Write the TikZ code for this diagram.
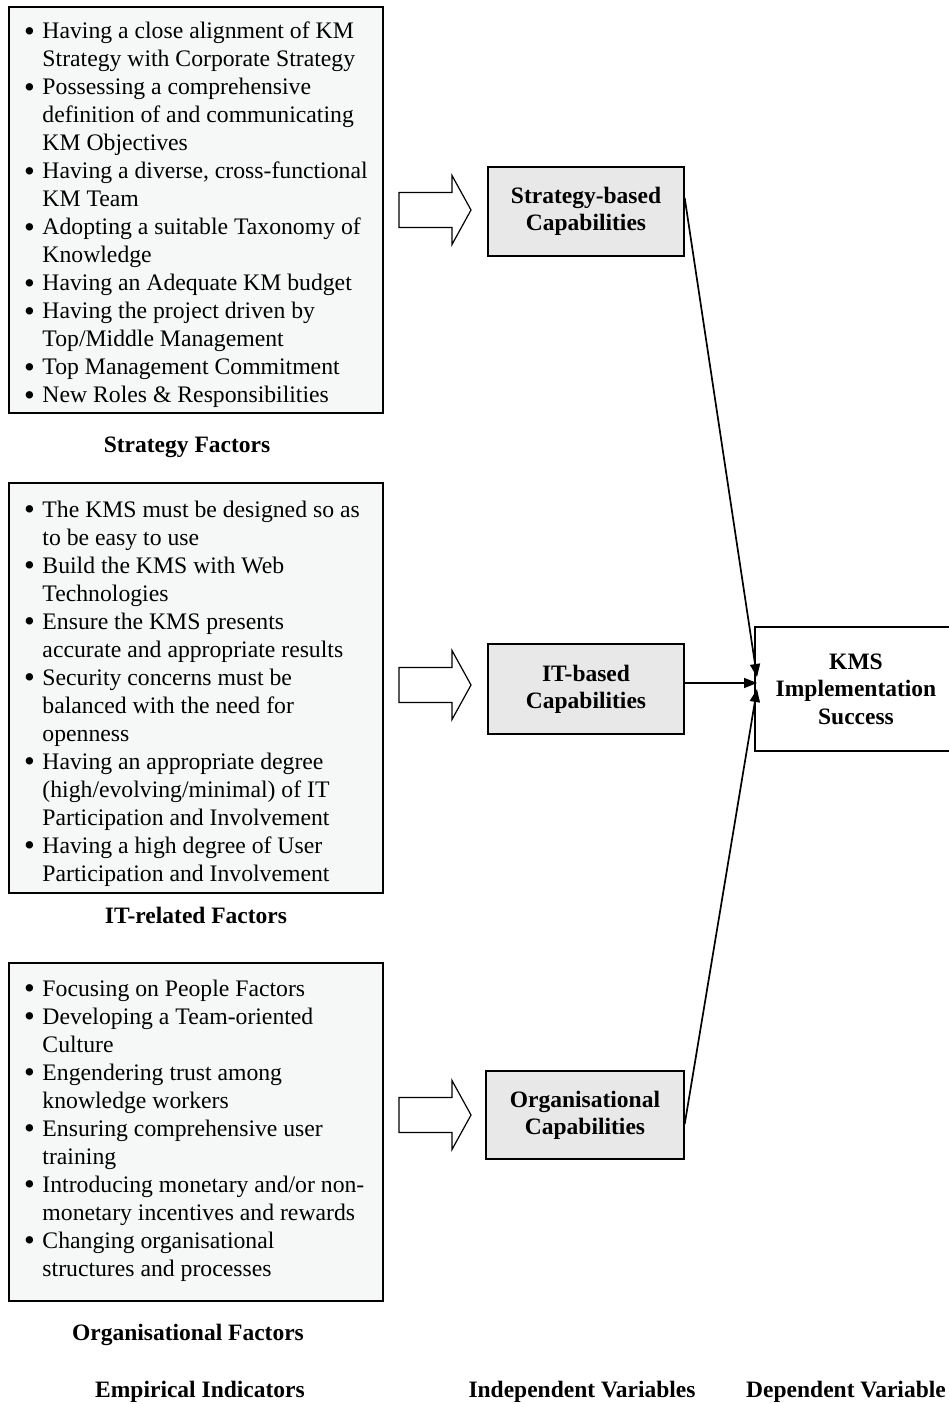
\documentclass[tikz,border=0pt]{standalone}
\usepackage{fontspec}
\setmainfont{Liberation Serif}
\usetikzlibrary{arrows.meta}
\definecolor{factorfill}{HTML}{F6F8F7}
\definecolor{capfill}{HTML}{E8E8E8}
\newcommand{\bl}{\smash{\raisebox{-0.11em}{\scalebox{1.3}{\textbullet}}}}
\begin{document}
\begin{tikzpicture}[x=1pt,y=-1pt,
  factorbox/.style={draw=black,line width=1.4pt,fill=factorfill},
  capbox/.style={draw=black,line width=1.4pt,fill=capfill,font=\fontsize{23.5}{27}\selectfont\bfseries,align=center},
  depbox/.style={font=\fontsize{23.5}{27.5}\selectfont\bfseries,align=center},
  listtext/.style={inner sep=0pt,anchor=base west,font=\fontsize{23.7}{28}\selectfont},
  caption/.style={font=\fontsize{23.5}{25}\selectfont\bfseries,inner sep=0pt},
  blockarrow/.style={draw=black,line width=1.2pt,fill=white,line join=miter},
  link/.style={line width=1.7pt,-{Triangle[length=13pt,width=10pt]}}
]
\useasboundingbox (0,0) rectangle (949,1404);

% factor boxes
\draw[factorbox] (9,7) rectangle (383,413);
\draw[factorbox] (9,483) rectangle (383,893);
\draw[factorbox] (9,963) rectangle (383,1301);

\node[listtext] (slist) at (24,38.5) {\begin{tabular}[t]{@{}l@{\hspace{7.5pt}}l@{}}
\bl & Having a close alignment of KM\\
 & Strategy with Corporate Strategy\\
\bl & Possessing a comprehensive\\
 & definition of and communicating\\
 & KM Objectives\\
\bl & Having a diverse, cross-functional\\
 & KM Team\\
\bl & Adopting a suitable Taxonomy of\\
 & Knowledge\\
\bl & Having an Adequate KM budget\\
\bl & Having the project driven by\\
 & Top/Middle Management\\
\bl & Top Management Commitment\\
\bl & New Roles \& Responsibilities
\end{tabular}};

\node[listtext] (ilist) at (24,517) {\begin{tabular}[t]{@{}l@{\hspace{7.5pt}}l@{}}
\bl & The KMS must be designed so as\\
 & to be easy to use\\
\bl & Build the KMS with Web\\
 & Technologies\\
\bl & Ensure the KMS presents\\
 & accurate and appropriate results\\
\bl & Security concerns must be\\
 & balanced with the need for\\
 & openness\\
\bl & Having an appropriate degree\\
 & (high/evolving/minimal) of IT\\
 & Participation and Involvement\\
\bl & Having a high degree of User\\
 & Participation and Involvement
\end{tabular}};

\node[listtext] (olist) at (24,996) {\begin{tabular}[t]{@{}l@{\hspace{7.5pt}}l@{}}
\bl & Focusing on People Factors\\
\bl & Developing a Team-oriented\\
 & Culture\\
\bl & Engendering trust among\\
 & knowledge workers\\
\bl & Ensuring comprehensive user\\
 & training\\
\bl & Introducing monetary and/or non-\\
 & monetary incentives and rewards\\
\bl & Changing organisational\\
 & structures and processes
\end{tabular}};

% captions
\node[caption] (scap) at (187,447) {Strategy Factors};
\node[caption] (icap) at (196,915) {IT-related Factors};
\node[caption] (ocap) at (188,1335) {Organisational Factors};
\node[caption] (emp) at (200,1392) {Empirical Indicators};
\node[caption] (indep) at (582,1392) {Independent Variables};
\node[caption] (dep) at (846,1392) {Dependent Variable};

% block arrows
\foreach \yc in {210,685,1115}{
  \draw[blockarrow] (399,\yc-17.5) -- (452,\yc-17.5) -- (452,\yc-34.5) -- (471,\yc)
     -- (452,\yc+34.5) -- (452,\yc+17.5) -- (399,\yc+17.5) -- cycle;
}

% capability boxes
\node[capbox,minimum width=196pt,minimum height=89pt] (scap2) at (586,211.5) {Strategy-based\\Capabilities};
\node[capbox,minimum width=196pt,minimum height=90pt] (icap2) at (586,689) {IT-based\\Capabilities};
\node[capbox,minimum width=198pt,minimum height=88pt] (ocap2) at (585,1115) {Organisational\\Capabilities};

% dependent box
\draw[line width=1.4pt,fill=white] (755,627) rectangle (955,751);
\node[depbox,inner sep=0pt] (kms) at (856,689) {KMS\\Implementation\\Success};
\coordinate (kmsin1) at (757,677);
\coordinate (kmsin2) at (757,683);
\coordinate (kmsin3) at (757,689);

\draw[link] (scap2.east |- 0,198) -- (kmsin1);
\draw[link] (icap2.east |- 0,683) -- (kmsin2);
\draw[link] (ocap2.east |- 0,1124) -- (kmsin3);
\end{tikzpicture}
\end{document}
